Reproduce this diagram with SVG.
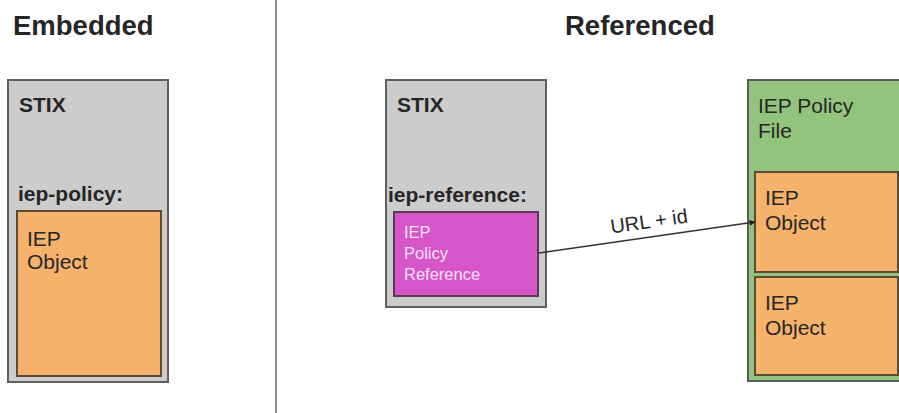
<svg xmlns="http://www.w3.org/2000/svg" width="899" height="413" viewBox="0 0 899 413">
<defs>
<style>
text{font-family:"Liberation Sans",Arial,sans-serif;fill:#262626}
.title{font-size:27.5px;font-weight:bold}
.lbl{font-size:21px;font-weight:bold}
.txt{font-size:21px}
.stix{fill:#cccccc;stroke:#5f5f5f;stroke-width:2}
.obj{fill:#f6b26b;stroke:#5e4b35;stroke-width:2}
.ref{fill:#d655c9;stroke:#5a3a57;stroke-width:2}
.file{fill:#93c47d;stroke:#5a5a5a;stroke-width:2}
.reftxt{font-size:16.5px;fill:#f7e2f4}
</style>
<marker id="arr" viewBox="0 0 10 10" refX="9" refY="5" markerWidth="4" markerHeight="4" orient="auto">
<path d="M0,0 L10,5 L0,10 z" fill="#222"/>
</marker>
</defs>
<rect width="899" height="413" fill="#ffffff"/>
<text class="title" x="13" y="35">Embedded</text>
<text class="title" x="565" y="35">Referenced</text>
<line x1="276" y1="0" x2="276" y2="413" stroke="#666" stroke-width="1.5"/>

<g id="stix-embedded">
<rect class="stix" x="8" y="80" width="160" height="302"/>
<text class="lbl" x="19" y="112">STIX</text>
<text class="lbl" x="18" y="201">iep-policy:</text>
</g>
<g id="iep-object-embedded">
<rect class="obj" x="17" y="211" width="144" height="165"/>
<text class="txt" x="27" y="246">IEP</text>
<text class="txt" x="27" y="269">Object</text>
</g>

<g id="stix-referenced">
<rect class="stix" x="386" y="80" width="160" height="227"/>
<text class="lbl" x="397" y="112">STIX</text>
<text class="lbl" x="388" y="202">iep-reference:</text>
</g>
<g id="iep-policy-reference">
<rect class="ref" x="394" y="212" width="144" height="84"/>
<text class="reftxt" x="404" y="238">IEP</text>
<text class="reftxt" x="404" y="259">Policy</text>
<text class="reftxt" x="404" y="280">Reference</text>
</g>

<g id="iep-policy-file">
<rect class="file" x="748" y="80" width="160" height="301"/>
<text class="txt" x="758" y="113">IEP Policy</text>
<text class="txt" x="758" y="138">File</text>
</g>
<g id="iep-object-1">
<rect class="obj" x="755" y="172" width="143" height="100"/>
<text class="txt" x="765" y="205">IEP</text>
<text class="txt" x="765" y="230">Object</text>
</g>
<g id="iep-object-2">
<rect class="obj" x="755" y="277" width="143" height="98"/>
<text class="txt" x="765" y="310">IEP</text>
<text class="txt" x="765" y="335">Object</text>
</g>

<g id="connectors">
<line x1="539" y1="253" x2="755" y2="222" stroke="#333" stroke-width="1.5" marker-end="url(#arr)"/>
<text class="txt" x="650" y="228" text-anchor="middle" transform="rotate(-8.2 650 228)" style="font-size:20px">URL + id</text>
</g>
</svg>
